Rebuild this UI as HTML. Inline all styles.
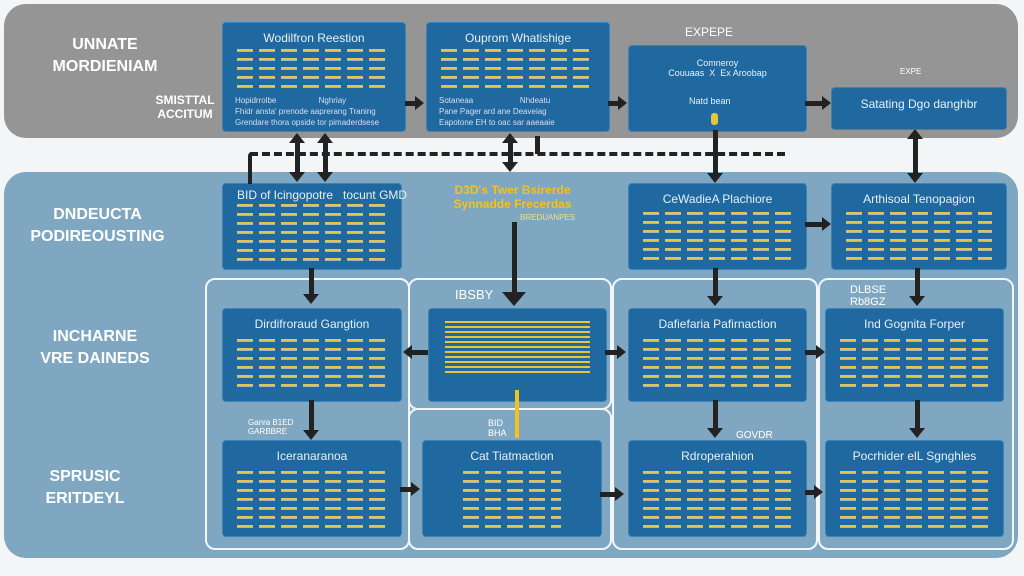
<!DOCTYPE html>
<html><head><meta charset="utf-8"><style>
body{margin:0;width:1024px;height:576px;background:#f4f5f6;position:relative;overflow:hidden;font-family:"Liberation Sans",sans-serif}
.a{position:absolute}
.panel{position:absolute;border-radius:22px}
.box{position:absolute;background:#1f69a0;border:1px solid #3b84b8;border-radius:4px;color:#e8f0f6;text-align:center;font-size:12px}
.box .t{margin-top:8px;white-space:nowrap}
.fill{position:absolute;left:14px;right:14px;background:
repeating-linear-gradient(to right,transparent 0 16px,#1f69a0 16px 22px),
repeating-linear-gradient(to bottom,#e3c54a 0 2px,#9fb8c8 2px 3px,transparent 3px 9px)}
.grp{position:absolute;border:2px solid #f2f6f8;border-radius:10px}
.lbl{position:absolute;color:#fff;font-weight:bold;font-size:15px;text-align:center;line-height:22px}
.v{position:absolute;width:5px;background:#222}
.h{position:absolute;height:5px;background:#222}
.ad{position:absolute;width:0;height:0;border-left:8px solid transparent;border-right:8px solid transparent;border-top:10px solid #222}
.au{position:absolute;width:0;height:0;border-left:8px solid transparent;border-right:8px solid transparent;border-bottom:10px solid #222}
.ar{position:absolute;width:0;height:0;border-top:7px solid transparent;border-bottom:7px solid transparent;border-left:9px solid #222}
.al{position:absolute;width:0;height:0;border-top:7px solid transparent;border-bottom:7px solid transparent;border-right:9px solid #222}
</style></head><body>
<div class="panel" style="left:4px;top:4px;width:1014px;height:134px;background:#959595"></div>
<div class="panel" style="left:4px;top:172px;width:1014px;height:386px;background:#7fa7c1"></div>

<div class="lbl" style="left:40px;top:34px;width:130px;font-size:16px">UNNATE<br>MORDIENIAM</div>
<div class="lbl" style="left:150px;top:93px;width:70px;font-size:12px;line-height:14px">SMISTTAL<br>ACCITUM</div>
<div class="lbl" style="left:15px;top:204px;width:165px;font-size:16px">DNDEUCTA<br>PODIREOUSTING</div>
<div class="lbl" style="left:20px;top:326px;width:150px;font-size:16px">INCHARNE<br>VRE DAINEDS</div>
<div class="lbl" style="left:30px;top:466px;width:110px;font-size:16px">SPRUSIC<br>ERITDEYL</div>

<!-- groups -->
<div class="grp" style="left:205px;top:278px;width:201px;height:268px"></div>
<div class="grp" style="left:408px;top:278px;width:200px;height:128px"></div>
<div class="grp" style="left:408px;top:408px;width:200px;height:138px"></div>
<div class="grp" style="left:612px;top:278px;width:202px;height:268px"></div>
<div class="grp" style="left:818px;top:278px;width:192px;height:268px"></div>

<!-- top row -->
<div class="box" style="left:222px;top:22px;width:182px;height:108px"><div class="t">Wodilfron Reestion</div><div class="fill" style="top:26px;height:40px"></div><div class="a" style="left:12px;top:72px;font-size:8px;text-align:left;line-height:11px;color:#dde">Hopidrrolbe &nbsp; &nbsp; &nbsp; &nbsp; &nbsp; &nbsp; &nbsp; &nbsp; &nbsp; Nghriay<br>Fhidr ansta' prenode aaprerang Traning<br>Grendare thora opside tor pimaderdsese</div></div>
<div class="box" style="left:426px;top:22px;width:182px;height:108px"><div class="t">Ouprom Whatishige</div><div class="fill" style="top:26px;height:40px"></div><div class="a" style="left:12px;top:72px;font-size:8px;text-align:left;line-height:11px;color:#dde">Sotaneaa &nbsp; &nbsp; &nbsp; &nbsp; &nbsp; &nbsp; &nbsp; &nbsp; &nbsp; &nbsp; Nhdeatu<br>Pane Pager ard ane Deaveiag<br>Eapotone EH to oac sar aaeaaie</div></div>
<div class="a" style="left:685px;top:25px;color:#fff;font-size:12px">EXPEPE</div>
<div class="box" style="left:628px;top:45px;width:177px;height:85px"><div class="t" style="font-size:9px;margin-top:12px">Comneroy<br>Couuaas &nbsp;X &nbsp;Ex Aroobap</div><div class="a" style="left:60px;top:50px;font-size:9px">Natd bean</div></div>
<div class="a" style="left:900px;top:67px;color:#fff;font-size:8px">EXPE</div>
<div class="box" style="left:831px;top:87px;width:174px;height:41px"><div class="t" style="margin-top:9px">Satating Dgo danghbr</div></div>

<!-- row 2 -->
<div class="box" style="left:222px;top:183px;width:178px;height:85px"><div class="t" style="margin-top:4px;text-align:left;padding-left:14px">BID of Icingopotre &nbsp; tocunt GMD</div><div class="fill" style="top:20px;height:58px"></div></div>
<div class="a" style="left:440px;top:183px;color:#f2c21e;font-size:12px;font-weight:bold;line-height:14px;text-align:center;width:145px">D3D's Twer Bsirerde<br>Synnadde Frecerdas</div>
<div class="a" style="left:520px;top:213px;color:#f2e080;font-size:8px">BREDUANPES</div>
<div class="box" style="left:628px;top:183px;width:177px;height:85px"><div class="t">CeWadieA Plachiore</div><div class="fill" style="top:28px;height:48px"></div></div>
<div class="box" style="left:831px;top:183px;width:174px;height:85px"><div class="t">Arthisoal Tenopagion</div><div class="fill" style="top:28px;height:48px"></div></div>

<!-- row 3 -->
<div class="a" style="left:455px;top:287px;color:#fff;font-size:13px">IBSBY</div>
<div class="a" style="left:850px;top:284px;color:#fff;font-size:11px">DLBSE<br>Rb8GZ</div>
<div class="box" style="left:222px;top:308px;width:178px;height:92px"><div class="t">Dirdifroraud Gangtion</div><div class="fill" style="top:30px;height:54px"></div></div>
<div class="box" style="left:428px;top:308px;width:177px;height:92px"><div class="fill" style="top:12px;height:52px;left:16px;right:16px;background:repeating-linear-gradient(to bottom,#e8c43a 0 2px,transparent 2px 5px)"></div></div>
<div class="box" style="left:628px;top:308px;width:177px;height:92px"><div class="t">Dafiefaria Pafirnaction</div><div class="fill" style="top:30px;height:54px"></div></div>
<div class="box" style="left:825px;top:308px;width:177px;height:92px"><div class="t">Ind Gognita Forper</div><div class="fill" style="top:30px;height:54px"></div></div>

<!-- row 4 -->
<div class="a" style="left:248px;top:418px;color:#fff;font-size:8px">Ganra B1ED<br>GARBBRE</div>
<div class="a" style="left:488px;top:418px;color:#fff;font-size:9px">BID<br>BHA</div>
<div class="a" style="left:736px;top:430px;color:#fff;font-size:10px">GOVDR</div>
<div class="box" style="left:222px;top:440px;width:178px;height:95px"><div class="t">Iceranaranoa</div><div class="fill" style="top:30px;height:58px"></div></div>
<div class="box" style="left:422px;top:440px;width:178px;height:95px"><div class="t">Cat Tiatmaction</div><div class="fill" style="top:30px;height:58px;left:40px;right:40px"></div></div>
<div class="box" style="left:628px;top:440px;width:177px;height:95px"><div class="t">Rdroperahion</div><div class="fill" style="top:30px;height:58px"></div></div>
<div class="box" style="left:825px;top:440px;width:177px;height:95px"><div class="t">Pocrhider elL Sgnghles</div><div class="fill" style="top:30px;height:58px"></div></div>

<!-- connectors -->
<div class="h" style="left:405px;top:101px;width:12px"></div><div class="ar" style="left:415px;top:96px"></div>
<div class="h" style="left:608px;top:101px;width:12px"></div><div class="ar" style="left:618px;top:96px"></div>
<div class="h" style="left:805px;top:101px;width:18px"></div><div class="ar" style="left:822px;top:96px"></div>
<!-- dashed -->
<div class="a" style="left:250px;top:152px;width:535px;height:0;border-top:4px dashed #222"></div>
<div class="a" style="left:248px;top:152px;width:4px;height:32px;background:#222;border-radius:4px 0 0 0"></div>
<div class="v" style="left:295px;top:142px;height:30px"></div><div class="au" style="left:289px;top:133px"></div><div class="ad" style="left:289px;top:172px"></div>
<div class="v" style="left:323px;top:142px;height:30px"></div><div class="au" style="left:317px;top:133px"></div><div class="ad" style="left:317px;top:172px"></div>
<div class="v" style="left:508px;top:142px;height:22px"></div><div class="au" style="left:502px;top:133px"></div><div class="ad" style="left:502px;top:162px"></div>
<div class="v" style="left:535px;top:136px;height:18px"></div>
<div class="v" style="left:713px;top:130px;height:45px"></div><div class="ad" style="left:707px;top:173px"></div>
<div class="v" style="left:913px;top:138px;height:36px"></div><div class="au" style="left:907px;top:129px"></div><div class="ad" style="left:907px;top:173px"></div>
<div class="a" style="left:711px;top:113px;width:7px;height:12px;background:#e8c43a;border-radius:3px"></div>
<div class="v" style="left:512px;top:222px;height:70px"></div><div class="ad" style="left:506px;top:292px;border-left-width:12px;border-right-width:12px;border-top-width:14px;left:502px"></div>
<div class="h" style="left:805px;top:222px;width:18px"></div><div class="ar" style="left:822px;top:217px"></div>
<div class="v" style="left:309px;top:268px;height:28px"></div><div class="ad" style="left:303px;top:294px"></div>
<div class="v" style="left:713px;top:268px;height:30px"></div><div class="ad" style="left:707px;top:296px"></div>
<div class="v" style="left:915px;top:268px;height:30px"></div><div class="ad" style="left:909px;top:296px"></div>
<div class="h" style="left:412px;top:350px;width:16px"></div><div class="al" style="left:403px;top:345px"></div>
<div class="h" style="left:605px;top:350px;width:13px"></div><div class="ar" style="left:617px;top:345px"></div>
<div class="h" style="left:805px;top:350px;width:12px"></div><div class="ar" style="left:816px;top:345px"></div>
<div class="v" style="left:309px;top:400px;height:32px"></div><div class="ad" style="left:303px;top:430px"></div>
<div class="v" style="left:713px;top:400px;height:30px"></div><div class="ad" style="left:707px;top:428px"></div>
<div class="v" style="left:915px;top:400px;height:30px"></div><div class="ad" style="left:909px;top:428px"></div>
<div class="a" style="left:515px;top:390px;width:4px;height:48px;background:#f2c21e"></div>
<div class="h" style="left:400px;top:487px;width:12px"></div><div class="ar" style="left:411px;top:482px"></div>
<div class="h" style="left:600px;top:492px;width:16px"></div><div class="ar" style="left:615px;top:487px"></div>
<div class="h" style="left:805px;top:490px;width:10px"></div><div class="ar" style="left:814px;top:485px"></div>
</body></html>
